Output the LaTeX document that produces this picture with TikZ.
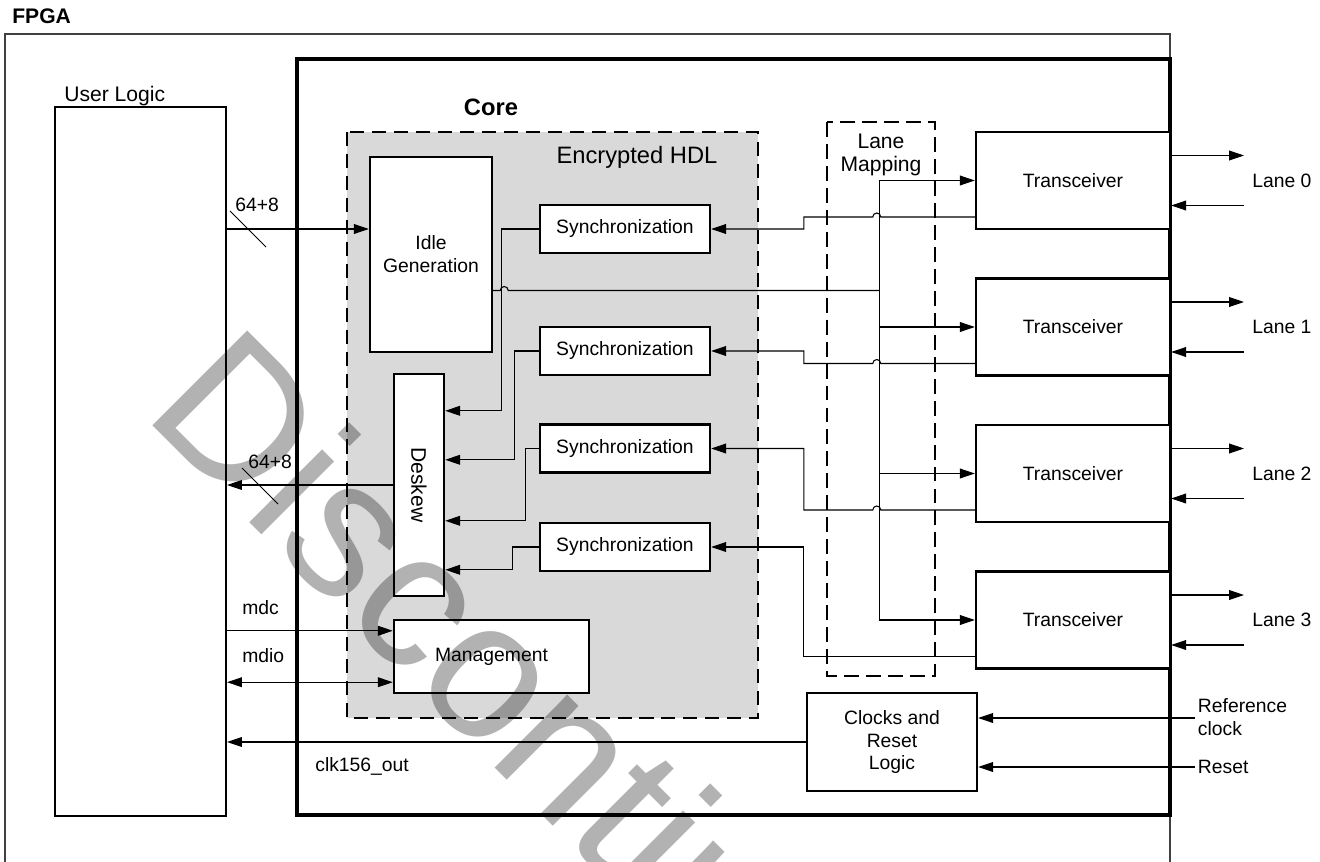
\documentclass[tikz,border=0pt]{standalone}
\usepackage{fontspec}
\setmainfont{Liberation Sans}
\usetikzlibrary{arrows.meta,calc}

\begin{document}
\begin{tikzpicture}[x=0.02cm,y=-0.02cm,
    blk/.style={draw,line width=1.4pt,fill=white,inner sep=0pt,align=center,font=\fontsize{11}{13}\selectfont},
    syncbox/.style={blk,minimum width=3.4cm,minimum height=0.96cm},
    txbox/.style={blk,minimum width=3.88cm,minimum height=1.94cm},
    lbl/.style={inner sep=0pt,align=left,font=\fontsize{11}{13}\selectfont},
    wire/.style={line width=0.6pt},
    arr/.style={wire,-{Triangle[length=8.5pt,width=5.6pt]}},
    dbl/.style={wire,{Triangle[length=8.5pt,width=5.6pt]}-{Triangle[length=8.5pt,width=5.6pt]}}]
    \useasboundingbox (0,0) rectangle (1320,862);
    \clip (0,0) rectangle (1320,862);

    % FPGA and core frames
    \draw[line width=1pt,black!75] (5,34) rectangle (1170,900);
    \node[anchor=west,inner sep=0pt,font=\fontsize{12}{14}\selectfont\bfseries] (fpga) at (12,16) {FPGA};
    \draw[line width=2.4pt] (297,59) rectangle (1170,815);
    \node[inner sep=0pt,font=\fontsize{13.5}{15}\selectfont\bfseries] (core) at (491,107) {Core};
    \draw[line width=0.8pt,fill=black!15,dash pattern=on 8pt off 4.5pt] (347,132) rectangle (758,718);
    \node[inner sep=0pt,font=\fontsize{13.5}{15}\selectfont] (enc) at (637,157) {Encrypted HDL};
    \draw[line width=1.1pt,dash pattern=on 8.5pt off 4pt] (827,122) rectangle (935,676);
    \node[inner sep=0pt,align=center,font=\fontsize{12}{13}\selectfont] (map) at (881,155) {Lane\\Mapping};

    % blocks
    \node[blk,line width=1.2pt,minimum width=3.42cm,minimum height=14.18cm] (ul) at (140.5,461.5) {};
    \node[anchor=west,inner sep=0pt,font=\fontsize{12}{14}\selectfont] (ullbl) at (64,96) {User Logic};
    \node[blk,minimum width=2.44cm,minimum height=3.9cm] (idle) at (431,254.5) {Idle\\Generation};
    \node[syncbox] (s1) at (625,229) {Synchronization};
    \node[syncbox] (s2) at (625,351) {Synchronization};
    \node[syncbox] (s3) at (625,448.5) {Synchronization};
    \node[syncbox] (s4) at (625,547) {Synchronization};
    \node[blk,minimum width=1cm,minimum height=4.44cm,font=\fontsize{12}{14}\selectfont] (dsk) at (419,485) {\rotatebox{-90}{Deskew}};
    \node[blk,minimum width=3.9cm,minimum height=1.46cm] (mgmt) at (491.5,656.5) {Management};
    \node[txbox] (tx0) at (1073,180.5) {Transceiver};
    \node[txbox] (tx1) at (1073,327) {Transceiver};
    \node[txbox] (tx2) at (1073,473.5) {Transceiver};
    \node[txbox] (tx3) at (1073,620) {Transceiver};
    \node[blk,minimum width=3.4cm,minimum height=1.96cm] (clk) at (892,742) {Clocks and\\Reset\\Logic};

    % user side
    \draw[arr] (ul.east |- s1.west) -- (idle.west |- s1.west);
    \draw[wire] (230,211) -- (266,247);
    \node[lbl,anchor=west] (win) at (235,205) {64+8};
    \draw[arr] (dsk.west) -- (ul.east |- dsk.west);
    \draw[wire] (242,468) -- (278,504);
    \node[lbl,anchor=west] (wout) at (248,462) {64+8};
    \coordinate (mdc) at ($(mgmt.north west)+(0,12)$);
    \coordinate (mdio) at ($(mgmt.south west)+(0,-12)$);
    \draw[arr] (ul.east |- mdc) -- (mdc);
    \draw[dbl] (ul.east |- mdio) -- (mdio);
    \node[lbl,anchor=west] (mdclbl) at (242,608) {mdc};
    \node[lbl,anchor=west] (mdiolbl) at (242,656) {mdio};
    \draw[arr] (clk.west) -- (ul.east |- clk.west);
    \node[lbl,anchor=west] (clkout) at (315,766) {clk156\_out};

    % sync into deskew
    \draw[arr] (s1.west) -- ++(-37,0) |- ($(dsk.north east)+(0,38)$);
    \draw[arr] (s2.west) -- ++(-24,0) |- ($(dsk.north east)+(0,87)$);
    \draw[arr] (s3.west) -- ++(-13,0) |- ($(dsk.north east)+(0,148)$);
    \draw[arr] (s4.west) -- ++(-26,0) |- ($(dsk.north east)+(0,197)$);

    % idle generation out to the lane mapping bus
    \coordinate (idleout) at ($(idle.east)+(0,36)$);
    \coordinate (bus) at ($(idleout)+(386,0)$);
    \draw[wire] (idleout) -- ++(7,0) arc[start angle=180,end angle=360,radius=4] -- (bus);
    \draw[wire] (bus |- tx0.west) -- (bus |- tx3.west);
    \foreach \i in {0,...,3}
        \draw[arr] (bus |- tx\i.west) -- (tx\i.west);

    % transceivers back to sync, hopping over the bus
    \foreach \t/\s in {0/1,1/2,2/3}
        \draw[arr] ($(tx\t.west)+(0,36.5)$) -- ++(-94,0) arc[start angle=0,end angle=-180,radius=4]
            -- ++(-69,0) |- (s\s.east);
    \draw[arr] ($(tx3.west)+(0,36.5)$) -- ++(-171,0) |- (s4.east);

    % serial lanes
    \coordinate (lanex) at (1252,0);
    \foreach \i in {0,...,3} {
        \node[lbl,anchor=west] (lane\i) at (tx\i.east -| lanex) {Lane \i};
        \draw[arr] ($(tx\i.east)+(0,-25)$) -- ($(lane\i.west)+(-8,-25)$);
        \draw[arr] ($(lane\i.west)+(-8,25)$) -- ($(tx\i.east)+(0,25)$);
    }

    % clock and reset inputs
    \coordinate (refin) at ($(clk.east)+(0,-24)$);
    \coordinate (rstin) at ($(clk.east)+(0,25)$);
    \node[lbl,anchor=west,inner sep=1.5pt] (ref) at (1195,717) {Reference\\clock};
    \node[lbl,anchor=west,inner sep=1.5pt] (rst) at (1195,767) {Reset};
    \draw[arr] (ref.west |- refin) -- (refin);
    \draw[arr] (rst.west) -- (rstin);

    % watermark
    \node[rotate=-45,anchor=base west,inner sep=0pt,text=black,text opacity=0.3,
        font=\fontsize{111}{111}\selectfont] (wm) at (141,414) {Discontinued};
\end{tikzpicture}
\end{document}
